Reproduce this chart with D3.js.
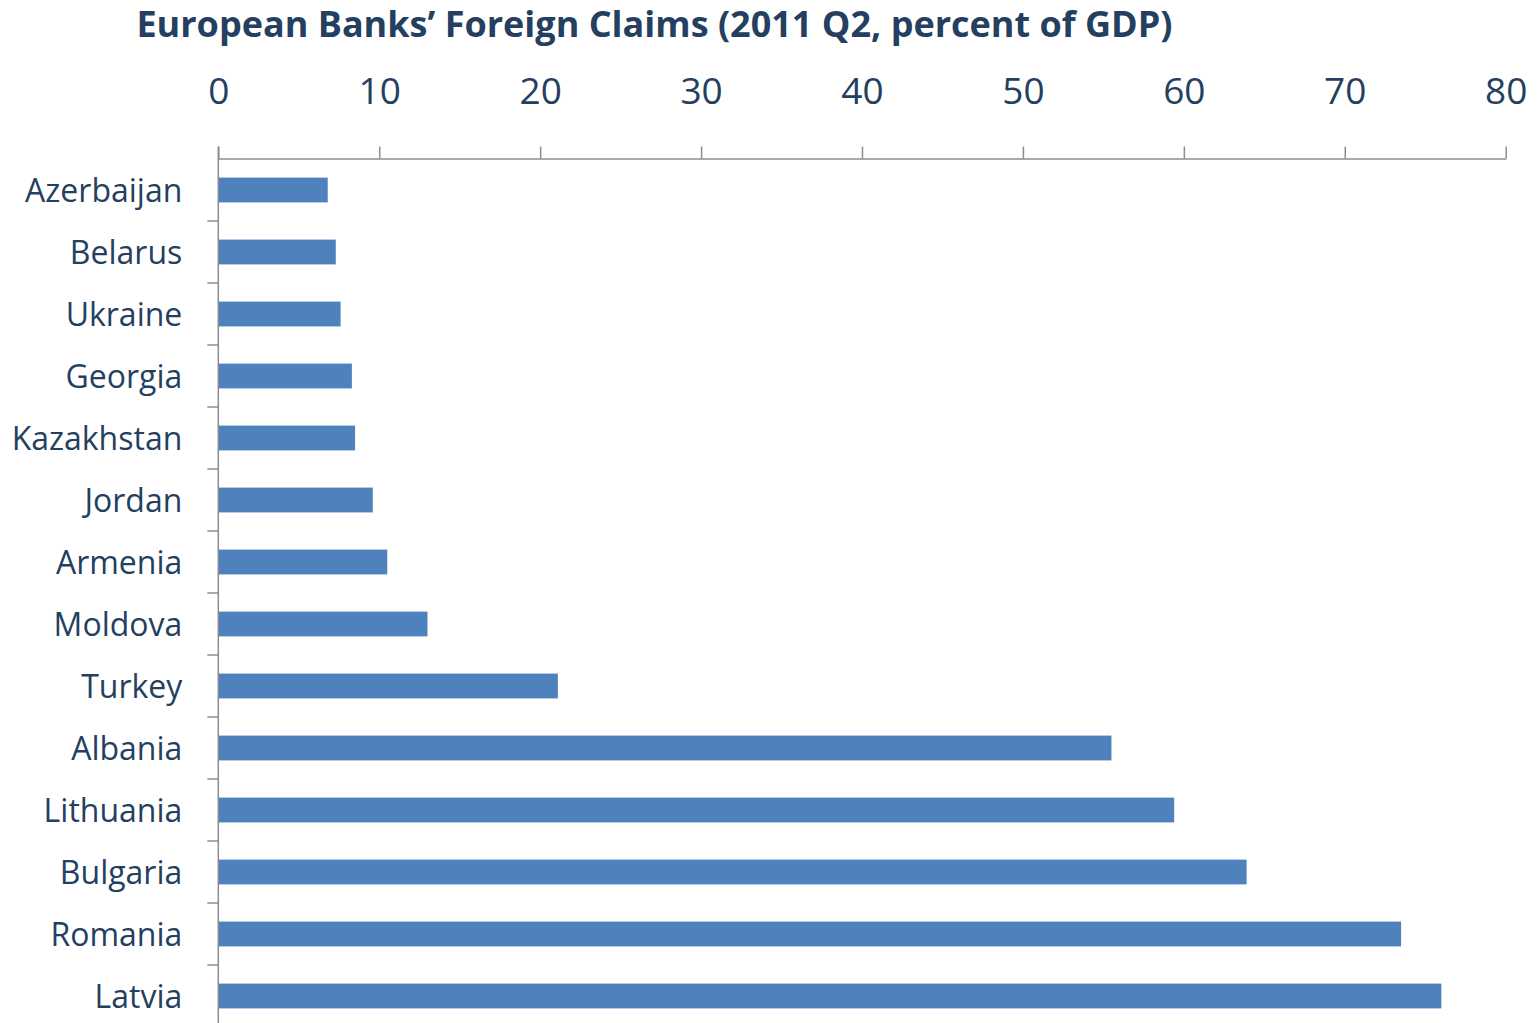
<!DOCTYPE html>
<html>
<head>
<meta charset="utf-8">
<script src="https://cdn.jsdelivr.net/npm/d3@7/dist/d3.min.js"></script>
<style>
  html, body { margin: 0; padding: 0; background: #fff; }
  svg { display: block; }
  text { font-family: "Open Sans", Lato, sans-serif; }
</style>
</head>
<body>
<svg id="chart" width="1540" height="1023"></svg>
<script>
const titleText = "European Banks’ Foreign Claims (2011 Q2, percent of GDP)";
const categories = ["Azerbaijan","Belarus","Ukraine","Georgia","Kazakhstan","Jordan","Armenia","Moldova","Turkey","Albania","Lithuania","Bulgaria","Romania","Latvia"];
const values = [6.8, 7.3, 7.6, 8.3, 8.5, 9.6, 10.5, 13.0, 21.1, 55.5, 59.4, 63.9, 73.5, 76.0];
const xTicks = [0, 10, 20, 30, 40, 50, 60, 70, 80];

const textColor = "#243F60";
const barColor = "#4F81BD";
const axisColor = "#8C8C8C";
const fontFam = "'Open Sans', Lato, sans-serif";

const svg = d3.select("#chart");

const x = d3.scaleLinear().domain([0, 80]).range([218.3, 1505.7]);
const y = d3.scaleBand().domain(categories).range([159, 1027]).paddingInner(0.6).paddingOuter(0.3);

// Title
svg.append("text")
  .attr("x", 654.5).attr("y", 37)
  .attr("text-anchor", "middle")
  .attr("fill", textColor)
  .attr("font-weight", "bold")
  .attr("font-size", 36)
  .attr("font-family", fontFam)
  .text(titleText);

// Bars
svg.append("g").selectAll("rect")
  .data(categories.map((c, i) => ({c, v: values[i]})))
  .join("rect")
  .attr("x", x(0))
  .attr("y", d => y(d.c))
  .attr("width", d => x(d.v) - x(0))
  .attr("height", y.bandwidth())
  .attr("fill", barColor);

// Top axis
const gx = svg.append("g").attr("transform", "translate(0,158.5)")
  .call(d3.axisTop(x).tickValues(xTicks).tickSize(12).tickPadding(43).tickSizeOuter(0));
gx.select(".domain").attr("stroke", axisColor).attr("stroke-width", 1.5);
gx.selectAll(".tick line").attr("stroke", axisColor).attr("stroke-width", 1.5);
gx.selectAll(".tick text").attr("fill", textColor).attr("font-size", 37).attr("font-family", fontFam);

// Left axis (labels)
const gy = svg.append("g").attr("transform", "translate(218.3,0)")
  .call(d3.axisLeft(y).tickSize(0).tickPadding(36));
gy.select(".domain").remove();
gy.selectAll(".tick text").attr("fill", textColor).attr("font-size", 32).attr("font-family", fontFam).attr("dy", "0.36em");

// Left axis line and boundary ticks
const step = y.step();
const boundaries = categories.map(c => y(c) - (step - y.bandwidth()) / 2);
boundaries.push(boundaries[boundaries.length - 1] + step);
svg.append("line")
  .attr("x1", x(0)).attr("x2", x(0))
  .attr("y1", 146.5).attr("y2", 1023)
  .attr("stroke", axisColor).attr("stroke-width", 1.5);
svg.append("g").selectAll("line")
  .data(boundaries.slice(1))
  .join("line")
  .attr("x1", x(0) - 11).attr("x2", x(0))
  .attr("y1", d => d).attr("y2", d => d)
  .attr("stroke", axisColor).attr("stroke-width", 1.5);
</script>
</body>
</html>
